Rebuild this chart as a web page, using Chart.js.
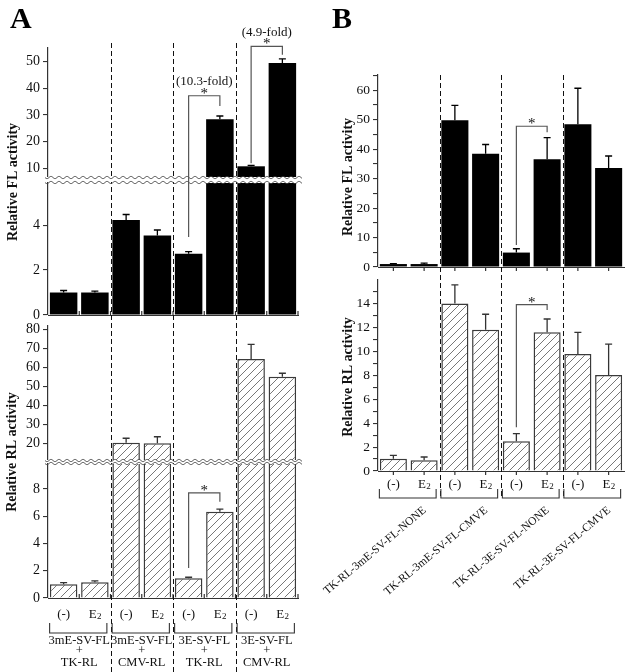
<!DOCTYPE html>
<html><head><meta charset="utf-8">
<script src="https://cdn.jsdelivr.net/npm/chart.js@4"></script>
<style>
html,body{margin:0;padding:0;background:#fff;}
#wrap{position:relative;width:633px;height:672px;overflow:hidden;background:#fff;}
canvas.ch{position:absolute;background:transparent;}
#overlay{position:absolute;left:0;top:0;pointer-events:none;z-index:10;}
</style></head><body>
<div id="wrap">
<canvas class="ch" id="A1" style="z-index:2"></canvas>
<canvas class="ch" id="A3" style="z-index:1"></canvas>
<canvas class="ch" id="A4" style="z-index:2"></canvas>
<canvas class="ch" id="B1" style="z-index:3"></canvas>
<canvas class="ch" id="B2" style="z-index:1"></canvas>
<canvas class="ch" id="A2" style="z-index:5"></canvas>
<canvas id="overlay" width="633" height="672"></canvas>
</div>
<script>
// ---------------- data ----------------
const barLabels = ['(-)','E2','(-)','E2','(-)','E2','(-)','E2'];
const groupsA = [['3mE-SV-FL','+','TK-RL'],['3mE-SV-FL','+','CMV-RL'],['3E-SV-FL','+','TK-RL'],['3E-SV-FL','+','CMV-RL']];
const groupsB = ['TK-RL-3mE-SV-FL-NONE','TK-RL-3mE-SV-FL-CMVE','TK-RL-3E-SV-FL-NONE','TK-RL-3E-SV-FL-CMVE'];

const flA    = [1.0, 1.0, 4.22, 3.54, 2.72, 28.4, 10.75, 49.5];
const flAErr = [0.09, 0.06, 0.25, 0.24, 0.1, 1.2, 0.35, 1.5];
const rlA    = [1.0, 1.15, 20.6, 20.3, 1.45, 6.32, 64.5, 55.2];
const rlAErr = [0.12, 0.1, 2.3, 3.4, 0.07, 0.2, 7.7, 1.8];
const flB    = [1.0, 1.0, 49.8, 38.5, 4.9, 36.6, 48.5, 33.6];
const flBErr = [0.15, 0.3, 5.1, 3.1, 1.3, 7.3, 12.2, 4.1];
const rlB    = [1.03, 0.9, 14.0, 11.8, 2.48, 11.6, 9.78, 8.03];
const rlBErr = [0.27, 0.27, 1.56, 1.3, 0.64, 1.1, 1.8, 2.57];

const ticksFLAUpper = [10,20,30,40,50];
const ticksFLALower = [0,2,4];
const ticksRLAUpper = [20,30,40,50,60,70,80];
const ticksRLALower = [0,2,4,6,8];
const ticksFLB = [0,5,10,15,20,25,30,35,40,45,50,55,60,65];
const labelsFLB = [0,10,20,30,40,50,60];
const ticksRLB = [0,1,2,3,4,5,6,7,8,9,10,11,12,13,14,15];
const labelsRLB = [0,2,4,6,8,10,12,14];
const foldLabels = ['(10.3-fold)','(4.9-fold)'];

// ---------------- layout (page pixels) ----------------
const FONT = 'Liberation Serif';
Chart.defaults.font.family = FONT;
Chart.defaults.color = '#111';

function hatchPattern(){
  const n = 8;
  const c = document.createElement('canvas'); c.width = n; c.height = n;
  const g = c.getContext('2d');
  g.fillStyle = '#fff'; g.fillRect(0,0,n,n);
  g.strokeStyle = '#555'; g.lineWidth = 0.8;
  g.beginPath();
  g.moveTo(-1,n+1); g.lineTo(n+1,-1);
  g.moveTo(-1,1); g.lineTo(1,-1);
  g.moveTo(n-1,n+1); g.lineTo(n+1,n-1);
  g.stroke();
  return g.createPattern(c,'repeat');
}
const HATCH = hatchPattern();

function build(id, s){
  const pad = 14, axisW = 48, rightPad = 2;
  const cv = document.getElementById(id);
  const areaW = s.right - s.left, areaH = s.bottom - s.top;
  cv.width = axisW + areaW + rightPad; cv.height = areaH + 2*pad;
  cv.style.width = cv.width + 'px'; cv.style.height = cv.height + 'px';
  cv.style.left = (s.left - axisW) + 'px'; cv.style.top = (s.top - pad) + 'px';
  const hatched = s.kind === 'rl';
  const plug = {
    id: 'extras' + id,
    afterDatasetsDraw(chart){
      const {ctx, chartArea: a} = chart;
      const ys = chart.scales.y;
      const meta = chart.getDatasetMeta(0);
      ctx.save();
      ctx.beginPath(); ctx.rect(a.left, a.top - 1, a.right - a.left, a.bottom - a.top + 1); ctx.clip();
      ctx.strokeStyle = hatched ? '#333' : '#000';
      ctx.lineWidth = 1.3;
      meta.data.forEach((bar, i) => {
        const y0 = ys.getPixelForValue(s.values[i]);
        const y1 = ys.getPixelForValue(s.values[i] + s.errs[i]);
        ctx.beginPath();
        ctx.moveTo(bar.x, y0); ctx.lineTo(bar.x, y1);
        ctx.moveTo(bar.x - 3.5, y1); ctx.lineTo(bar.x + 3.5, y1);
        ctx.stroke();
      });
      ctx.restore();
      if (s.baseline){
        const xs = chart.scales.x;
        ctx.save();
        ctx.strokeStyle = '#333'; ctx.lineWidth = 1.2;
        ctx.beginPath();
        ctx.moveTo(a.left, a.bottom + 0.5); ctx.lineTo(a.right + 1, a.bottom + 0.5);
        for (let i = 0; i < s.values.length; i++){
          if (s.baseline === 'up'){
            const xb = (i < s.values.length - 1) ? (xs.getPixelForValue(i) + xs.getPixelForValue(i+1))/2 : a.right;
            ctx.moveTo(xb, a.bottom); ctx.lineTo(xb, a.bottom - 4);
          } else {
            const xc = xs.getPixelForValue(i);
            ctx.moveTo(xc, a.bottom); ctx.lineTo(xc, a.bottom + 4);
          }
        }
        ctx.stroke();
        ctx.restore();
      }
    }
  };
  const chart = new Chart(cv, {
    type: 'bar',
    data: {
      labels: barLabels,
      datasets: [{
        data: s.values,
        backgroundColor: hatched ? HATCH : '#000',
        borderColor: '#3a3a3a',
        borderWidth: hatched ? 1.5 : 0,
        borderSkipped: 'start',
        barPercentage: 0.88,
        categoryPercentage: 1.0,
        clip: 0
      }]
    },
    options: {
      responsive: false, animation: false, devicePixelRatio: 1,
      layout: { padding: { top: pad, bottom: pad, left: 0, right: rightPad } },
      plugins: { legend: { display: false }, tooltip: { enabled: false } },
      scales: {
        x: { display: false, offset: true },
        y: {
          min: s.min, max: s.max,
          afterFit: sc => { sc.width = axisW; },
          afterBuildTicks: sc => { sc.ticks = s.ticks.map(v => ({ value: v })); },
          ticks: {
            autoSkip: false, padding: 3,
            font: { family: FONT, size: s.fontSize },
            color: '#111',
            callback: v => (s.labels ? (s.labels.includes(v) ? String(v) : '') : String(v))
          },
          grid: { drawOnChartArea: false, drawTicks: true, tickLength: 5, color: '#333', lineWidth: 1.1 },
          border: { display: true, color: '#333', width: 1.2 }
        }
      }
    },
    plugins: [plug]
  });
  chart.$off = { x: s.left - axisW, y: s.top - pad };
  return chart;
}

const cA1 = build('A1', {kind:'fl', left:48, right:298, top:48, bottom:177, min:6.74, max:55.1, values:flA, errs:flAErr, ticks:ticksFLAUpper, fontSize:14});
const cA2 = build('A2', {kind:'fl', left:48, right:298, top:183, bottom:315, min:0, max:5.87, values:flA, errs:flAErr, ticks:ticksFLALower, fontSize:14, baseline:'up'});
const cA3 = build('A3', {kind:'rl', left:48, right:298, top:326, bottom:460, min:11.5, max:81.8, values:rlA, errs:rlAErr, ticks:ticksRLAUpper, fontSize:14});
const cA4 = build('A4', {kind:'rl', left:48, right:298, top:464, bottom:598, min:0, max:9.82, values:rlA, errs:rlAErr, ticks:ticksRLALower, fontSize:14, baseline:'up'});
const cB1 = build('B1', {kind:'fl', left:378, right:624, top:75, bottom:267, min:0, max:65.2, values:flB, errs:flBErr, ticks:ticksFLB, labels:labelsFLB, fontSize:13.5, baseline:'down'});
const cB2 = build('B2', {kind:'rl', left:378, right:624, top:280, bottom:471, min:0, max:15.96, values:rlB, errs:rlBErr, ticks:ticksRLB, labels:labelsRLB, fontSize:13.5, baseline:'down'});

// ---------------- overlay annotations ----------------
const ov = document.getElementById('overlay').getContext('2d');
const px = (ch, i) => ch.$off.x + ch.scales.x.getPixelForValue(i);
const py = (ch, v) => ch.$off.y + ch.scales.y.getPixelForValue(v);
const bnd = (ch, i) => (px(ch, i) + px(ch, i+1)) / 2;

function dashed(ch, y0, y1){
  ov.save();
  ov.strokeStyle = '#111'; ov.lineWidth = 1; ov.setLineDash([5,3]);
  [1,3,5].forEach(i => {
    const x = Math.round(bnd(ch, i)) + 0.5;
    ov.beginPath(); ov.moveTo(x, y0); ov.lineTo(x, y1); ov.stroke();
  });
  ov.restore();
}
dashed(cA1, 43, 672);
dashed(cB1, 75, 498);

function wave(x0, x1, y){
  ov.beginPath();
  for (let x = x0; x <= x1; x += 0.5){
    const yy = y + 1.1 * Math.sin((x - x0) / 8 * 2 * Math.PI);
    if (x === x0) ov.moveTo(x, yy); else ov.lineTo(x, yy);
  }
  ov.stroke();
}
function brk(chUp, chLo){
  const yU = chUp.$off.y + chUp.chartArea.bottom;
  const yL = chLo.$off.y + chLo.chartArea.top;
  const x0 = chUp.$off.x + chUp.chartArea.left - 3;
  const x1 = chUp.$off.x + chUp.chartArea.right + 4;
  ov.fillStyle = '#fff'; ov.fillRect(x0, yU + 1, x1 - x0, yL - yU - 2);
  ov.strokeStyle = '#444'; ov.lineWidth = 1;
  wave(x0, x1, yU + 0.5); wave(x0, x1, yL - 0.5);
}
brk(cA1, cA2);
brk(cA3, cA4);

function sig(chL, vL, chT, vT, chR, vR, i, j, text){
  const xl = px(chT, i), xr = px(chT, j);
  const yt = py(chT, vT);
  ov.save();
  ov.strokeStyle = '#555'; ov.lineWidth = 1.2;
  ov.beginPath();
  ov.moveTo(xl, py(chL, vL)); ov.lineTo(xl, yt); ov.lineTo(xr, yt); ov.lineTo(xr, py(chR, vR));
  ov.stroke();
  ov.fillStyle = '#111'; ov.textAlign = 'center'; ov.textBaseline = 'alphabetic';
  ov.font = '15px ' + FONT;
  ov.fillText('*', (xl + xr)/2, yt + 2);
  if (text){
    ov.font = '13px ' + FONT;
    ov.textBaseline = 'middle';
    ov.fillText(text, (xl + xr)/2, yt - 14);
  }
  ov.restore();
}
sig(cA2, 3.47, cA1, 37.2, cA1, 33.4, 4, 5, foldLabels[0]);
sig(cA1, 11.9, cA1, 55.7, cA1, 52.6, 6, 7, foldLabels[1]);
sig(cA4, 2.2, cA4, 7.7, cA4, 7.06, 4, 5, null);
sig(cB1, 7.5, cB1, 47.8, cB1, 45.8, 4, 5, null);
sig(cB2, 3.65, cB2, 13.9, cB2, 13.45, 4, 5, null);

function treat(ch, y){
  ov.save();
  ov.fillStyle = '#111'; ov.textBaseline = 'middle';
  barLabels.forEach((lab, i) => {
    const x = px(ch, i);
    if (lab === 'E2'){
      ov.font = '13px ' + FONT;
      const wE = ov.measureText('E').width;
      ov.font = '9px ' + FONT;
      const w2 = ov.measureText('2').width;
      const x0 = x - (wE + w2)/2;
      ov.textAlign = 'left';
      ov.font = '13px ' + FONT; ov.fillText('E', x0, y);
      ov.font = '9px ' + FONT; ov.fillText('2', x0 + wE + 0.5, y + 2);
    } else {
      ov.textAlign = 'center'; ov.font = '13px ' + FONT;
      ov.fillText(lab, x, y);
    }
  });
  ov.restore();
}
treat(cA4, 615);
treat(cB2, 485);

function brackets(ch, yTop, yBot){
  ov.save(); ov.strokeStyle = '#333'; ov.lineWidth = 1.1;
  for (let g = 0; g < 4; g++){
    const xl = px(ch, 2*g) - 14, xr = px(ch, 2*g+1) + 12;
    ov.beginPath(); ov.moveTo(xl, yTop); ov.lineTo(xl, yBot); ov.lineTo(xr, yBot); ov.lineTo(xr, yTop); ov.stroke();
  }
  ov.restore();
}
brackets(cA4, 623, 633);
brackets(cB2, 489, 498);

ov.save();
ov.fillStyle = '#111'; ov.textAlign = 'center'; ov.textBaseline = 'middle';
ov.font = '12.5px ' + FONT;
groupsA.forEach((lines, g) => {
  const x = (px(cA4, 2*g) + px(cA4, 2*g+1)) / 2;
  ov.fillText(lines[0], x, 641);
  ov.fillText(lines[1], x, 650.5);
  ov.fillText(lines[2], x, 662.5);
});
ov.restore();

ov.save();
ov.fillStyle = '#111'; ov.textAlign = 'right'; ov.textBaseline = 'middle';
ov.font = '11.5px ' + FONT;
groupsB.forEach((t, g) => {
  const x = (px(cB2, 2*g) + px(cB2, 2*g+1)) / 2 + 16;
  ov.save(); ov.translate(x, 509); ov.rotate(-40 * Math.PI / 180);
  ov.fillText(t, 0, 0); ov.restore();
});
ov.restore();

function vtitle(t, x, y){
  ov.save(); ov.translate(x, y); ov.rotate(-Math.PI/2);
  ov.fillStyle = '#111'; ov.textAlign = 'center'; ov.textBaseline = 'middle';
  ov.font = 'bold 14px ' + FONT; ov.fillText(t, 0, 0); ov.restore();
}
vtitle('Relative FL activity', 13, 182);
vtitle('Relative RL activity', 12, 452);
vtitle('Relative FL activity', 348, 177);
vtitle('Relative RL activity', 348, 377);

ov.save(); ov.fillStyle = '#000'; ov.font = 'bold 30px ' + FONT; ov.textBaseline = 'alphabetic'; ov.textAlign = 'left';
ov.fillText('A', 10, 28); ov.fillText('B', 332, 28);
ov.restore();
</script>
</body></html>
